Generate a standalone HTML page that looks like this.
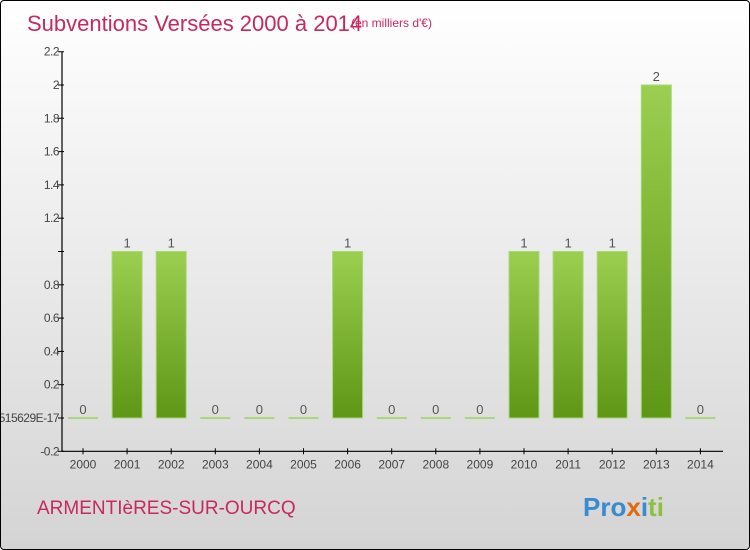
<!DOCTYPE html>
<html><head><meta charset="utf-8"><style>
body{margin:0;width:750px;height:550px;overflow:hidden;font-family:"Liberation Sans",sans-serif}
#wrap{position:absolute;left:0;top:0;width:748px;height:548px;border:1px solid #000;border-radius:4px;background:linear-gradient(#ffffff,#d4d4d4);overflow:hidden}
</style></head><body>
<div id="wrap">
<svg id="chart" width="750" height="550">
<defs><linearGradient id="bg" x1="0" y1="0" x2="0" y2="1"><stop offset="0" stop-color="#9ccf4f"/><stop offset="1" stop-color="#5e9615"/></linearGradient></defs>
<text x="26" y="30" font-size="22" fill="#c8285e">Subventions Versées 2000 à 2014</text>
<text x="350" y="26" font-size="12" fill="#c8285e">(en milliers d'€)</text>
<text x="36" y="513" font-size="19" fill="#c8285e">ARMENTIèRES-SUR-OURCQ</text>
<text x="582" y="515" font-size="26" font-weight="bold" fill="#f0a020"><tspan fill="#3a8ad0">Pro</tspan><tspan fill="#e06a10">x</tspan><tspan fill="#3a8ad0">i</tspan><tspan fill="#8cc040">ti</tspan></text>
<g id="plot"></g>
</svg>
</div>
<script>
const categories=["2000","2001","2002","2003","2004","2005","2006","2007","2008","2009","2010","2011","2012","2013","2014"];
const values=[0,1,1,0,0,0,1,0,0,0,1,1,1,2,0];
const tickValues=[-0.2,0,0.2,0.4,0.6,0.8,1,1.2,1.4,1.6,1.8,2,2.2];
const tickLabels=["-0.2","-5.5511151515629E-17","0.2","0.4","0.6","0.8","1","1.2","1.4","1.6","1.8","2","2.2"];
const NS="http://www.w3.org/2000/svg";
const g=document.getElementById('plot');
const y=v=>417-(v)*166.5;
const x=i=>82+i*44.1;
function el(t,a,txt){const e=document.createElementNS(NS,t);for(const k in a)e.setAttribute(k,a[k]);if(txt!==undefined)e.textContent=txt;g.appendChild(e);return e;}
let ax=el('line',{x1:61,y1:y(2.2),x2:61,y2:y(-0.2),stroke:'#000','stroke-width':1.2});


let bx=el('line',{x1:61,y1:y(-0.2),x2:722,y2:y(-0.2),stroke:'#000','stroke-width':1.2});


tickValues.forEach((v,i)=>{
 el('line',{x1:57,x2:63,y1:y(v),y2:y(v),stroke:'#000'});
 const t=el('text',{x:58,y:y(v)+4,'font-size':12,'text-anchor':'end',fill:'#444','letter-spacing':'-0.5'},v===1?'':tickLabels[i]);
 
 
});
categories.forEach((c,i)=>{
 const cx=x(i);
 el('line',{x1:cx,x2:cx,y1:y(-0.2)-3,y2:y(-0.2)+3,stroke:'#000'});
 const t=el('text',{x:cx,y:y(-0.2)+17,'font-size':12,'text-anchor':'middle',fill:'#444'},c);
 
 
 const v=values[i];
 const top=y(v),h=Math.max(y(0)-top,2);
 const r=el('rect',{x:cx-15,y:v>0?top:y(0)-1,width:30,height:h,fill:v>0?'url(#bg)':'#a8d878',stroke:v>0?'#a8d878':'none','stroke-width':1});
 
 
 const l=el('text',{x:cx,y:(v>0?top:y(0))-4,'font-size':13,'text-anchor':'middle',fill:'#555'},String(v));
 
 
});
</script>
</body></html>
